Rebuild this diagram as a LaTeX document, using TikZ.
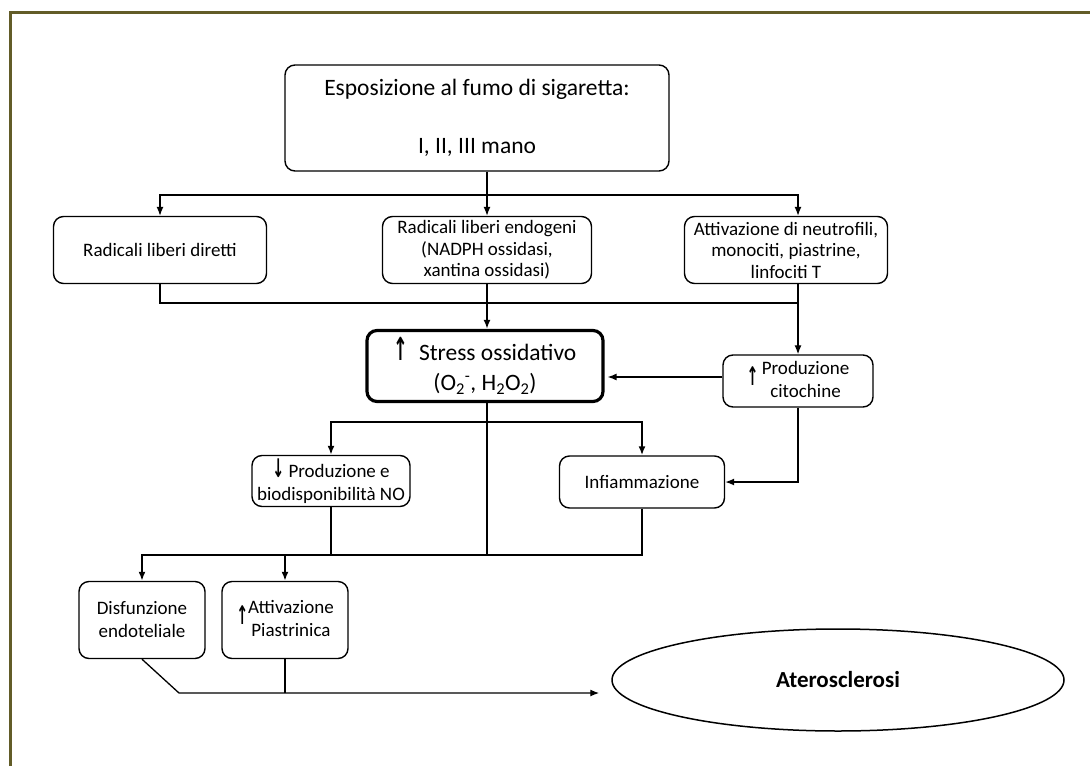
\documentclass[tikz,border=0pt]{standalone}
\usepackage{fontspec}
\setmainfont{Carlito}
\newfontfamily\arrowfont{DejaVu Sans}
\usetikzlibrary{shapes.geometric, arrows.meta}
\definecolor{olivefr}{RGB}{98,92,40}
\tikzstyle{box} = [rectangle, rounded corners=10pt, draw=black, line width=1.4pt, align=center, inner sep=2pt, font=\fontsize{19}{23}\selectfont]
\tikzstyle{bigbox} = [box, font=\fontsize{23.5}{27}\selectfont]
\tikzstyle{stressbox} = [box, line width=3.2pt, font=\fontsize{23.5}{30}\selectfont]
\tikzstyle{goal} = [ellipse, draw=black, line width=1.5pt, font=\bfseries\fontsize{23}{27}\selectfont]
\tikzstyle{wire} = [line width=1.3pt]
\tikzstyle{heavy} = [line width=2.6pt]
\newcommand{\twolines}[2]{\begin{tabular}{@{}c@{}}#1\\#2\end{tabular}}
\newcommand{\arrup}{\scalebox{0.75}[1.35]{\arrowfont\bfseries ↑}}
\newcommand{\arrdown}{\scalebox{0.75}[1.35]{\arrowfont\bfseries ↓}}

\begin{document}
\begin{tikzpicture}[x=1pt, y=-1pt, >={Latex[length=9pt,width=7pt]}]
    \useasboundingbox (0,0) rectangle (1090,766);
    \draw[olivefr, line width=3pt] (10.5,766) -- (10.5,12.5) -- (1090,12.5);

    \node at (477,118) [bigbox, minimum width=384pt, minimum height=106pt] (smoke) {Esposizione al fumo di sigaretta:\\[31pt]I, II, III mano};
    \node at (160,250) [box, minimum width=213pt, minimum height=67pt] (direct) {Radicali liberi diretti};
    \node at (487,250) [box, minimum width=209pt, minimum height=67pt, font=\fontsize{19}{21.5}\selectfont] (endog) {Radicali liberi endogeni\\(NADPH ossidasi,\\xantina ossidasi)};
    \node at (786,250) [box, minimum width=203pt, minimum height=67pt, font=\fontsize{19}{21.5}\selectfont] (activ) {Attivazione di neutrofili,\\monociti, piastrine,\\linfociti T};

    \node at (485,366) [stressbox, minimum width=236pt, minimum height=71pt] (stress) {\arrup\ \ Stress ossidativo\\(O\textsubscript{2}\textsuperscript{-}, H\textsubscript{2}O\textsubscript{2})};
    \node at (798,381) [box, minimum width=150pt, minimum height=52pt] (cyto) {\arrup\,\twolines{Produzione}{citochine}};

    \node at (331,481) [box, minimum width=158pt, minimum height=51pt] (nitric) {\arrdown\ Produzione e\\biodisponibilità NO};
    \node at (642,482) [box, minimum width=165pt, minimum height=52pt] (inflam) {Infiammazione};

    \node at (142,620) [box, minimum width=126pt, minimum height=77pt] (dysf) {Disfunzione\\endoteliale};
    \node at (285,620) [box, minimum width=126pt, minimum height=77pt] (platelet) {\arrup\twolines{Attivazione}{Piastrinica}};
    \node at (838,680) [goal, minimum width=452pt, minimum height=102pt] (athero) {Aterosclerosi};

    \coordinate (split) at (487,195);
    \coordinate (join) at (798,303);
    \coordinate (fork) at (487,422);
    \coordinate (merge) at (487,555);
    \coordinate (bend) at (179,693);
    \coordinate (cytoin) at ([yshift=4pt]cyto.west);

    \draw[wire] (smoke.south -| split) -- (split);
    \draw[wire,->] (split) -| (direct);
    \draw[wire,->] (split) -- (endog);
    \draw[wire,->] (split) -| (activ.north -| join);
    \draw[wire] (direct) |- (join);
    \draw[wire,->] (activ.south -| join) -- (cyto);
    \draw[heavy,->] (endog) -- (endog |- stress.north);
    \draw[wire,->] (cytoin) -- ([xshift=3pt]stress.east |- cytoin);
    \draw[wire] (stress.south -| merge) -- (merge);
    \draw[heavy,->] (fork) -| (nitric);
    \draw[heavy,->] (fork) -| (inflam);
    \draw[wire,->] (cyto) |- (inflam);
    \draw[heavy] (nitric) -- (nitric |- merge);
    \draw[heavy] (inflam) |- (merge);
    \draw[heavy,->] (merge) -| (dysf);
    \draw[heavy,->] (merge) -| (platelet);
    \draw[wire,->] (dysf.south) -- (bend) -- ([xshift=-12pt]athero.west |- bend);
    \draw[wire] (platelet) -- (platelet |- bend);
\end{tikzpicture}
\end{document}
